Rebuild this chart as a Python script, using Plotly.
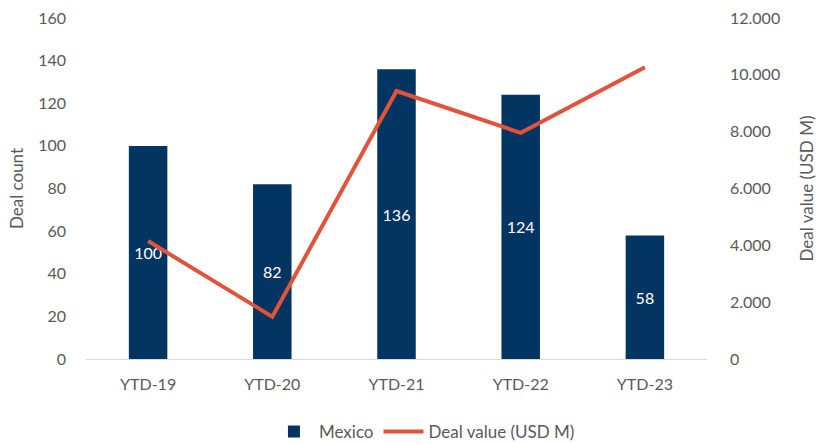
import plotly.graph_objects as go

# Deal activity in Mexico, year-to-date comparison
periods = ["YTD-19", "YTD-20", "YTD-21", "YTD-22", "YTD-23"]
deal_count = [100, 82, 136, 124, 58]
deal_value = [4150, 1490, 9430, 7960, 10270]

count_ticks = [0, 20, 40, 60, 80, 100, 120, 140, 160]
value_ticks = [0, 2000, 4000, 6000, 8000, 10000, 12000]

NAVY = "#023561"
RED = "#E2533B"
GREY = "#595959"
FONT = "Lato, 'Open Sans', sans-serif"

fig = go.Figure()

fig.add_trace(go.Bar(
    x=periods, y=deal_count, name="Mexico",
    marker=dict(color=NAVY, line=dict(width=0)),
    width=0.31,
    text=[str(v) for v in deal_count],
    textposition="inside", insidetextanchor="middle",
    textfont=dict(color="white", size=16, family=FONT),
    yaxis="y",
))

fig.add_trace(go.Scatter(
    x=periods, y=deal_value, name="Deal value (USD M)",
    mode="lines", line=dict(color=RED, width=4),
    yaxis="y2",
))

fig.update_layout(
    width=817, height=444,
    margin=dict(l=86, r=110, t=18, b=85, autoexpand=False),
    paper_bgcolor="white", plot_bgcolor="white",
    separators=",.",
    font=dict(family=FONT, color=GREY, size=16),
    showlegend=True,
    legend=dict(orientation="h", x=0.545, xanchor="center", y=-0.214, yanchor="middle",
                font=dict(size=17, color=GREY), itemwidth=40),
    xaxis=dict(showgrid=False, showline=True, linecolor="#D9D9D9", linewidth=1,
               ticks="", ticklabelstandoff=11, tickfont=dict(size=16, color=GREY)),
    yaxis=dict(range=[0, 160], tickvals=count_ticks, showgrid=False, zeroline=False,
               showline=False, ticks="", ticklabelstandoff=19,
               title=dict(text="Deal count", standoff=10,
                          font=dict(size=17, color=GREY)),
               tickfont=dict(size=16, color=GREY)),
    yaxis2=dict(range=[0, 12000], tickvals=value_ticks, tickformat=",d", overlaying="y",
                side="right", showgrid=False, zeroline=False, showline=False, ticks="",
                ticklabelstandoff=22,
                title=dict(text="Deal value (USD M)", standoff=22,
                           font=dict(size=17, color=GREY)),
                tickfont=dict(size=16, color=GREY)),
    bargap=0.69,
)

fig.write_html("out.html")
